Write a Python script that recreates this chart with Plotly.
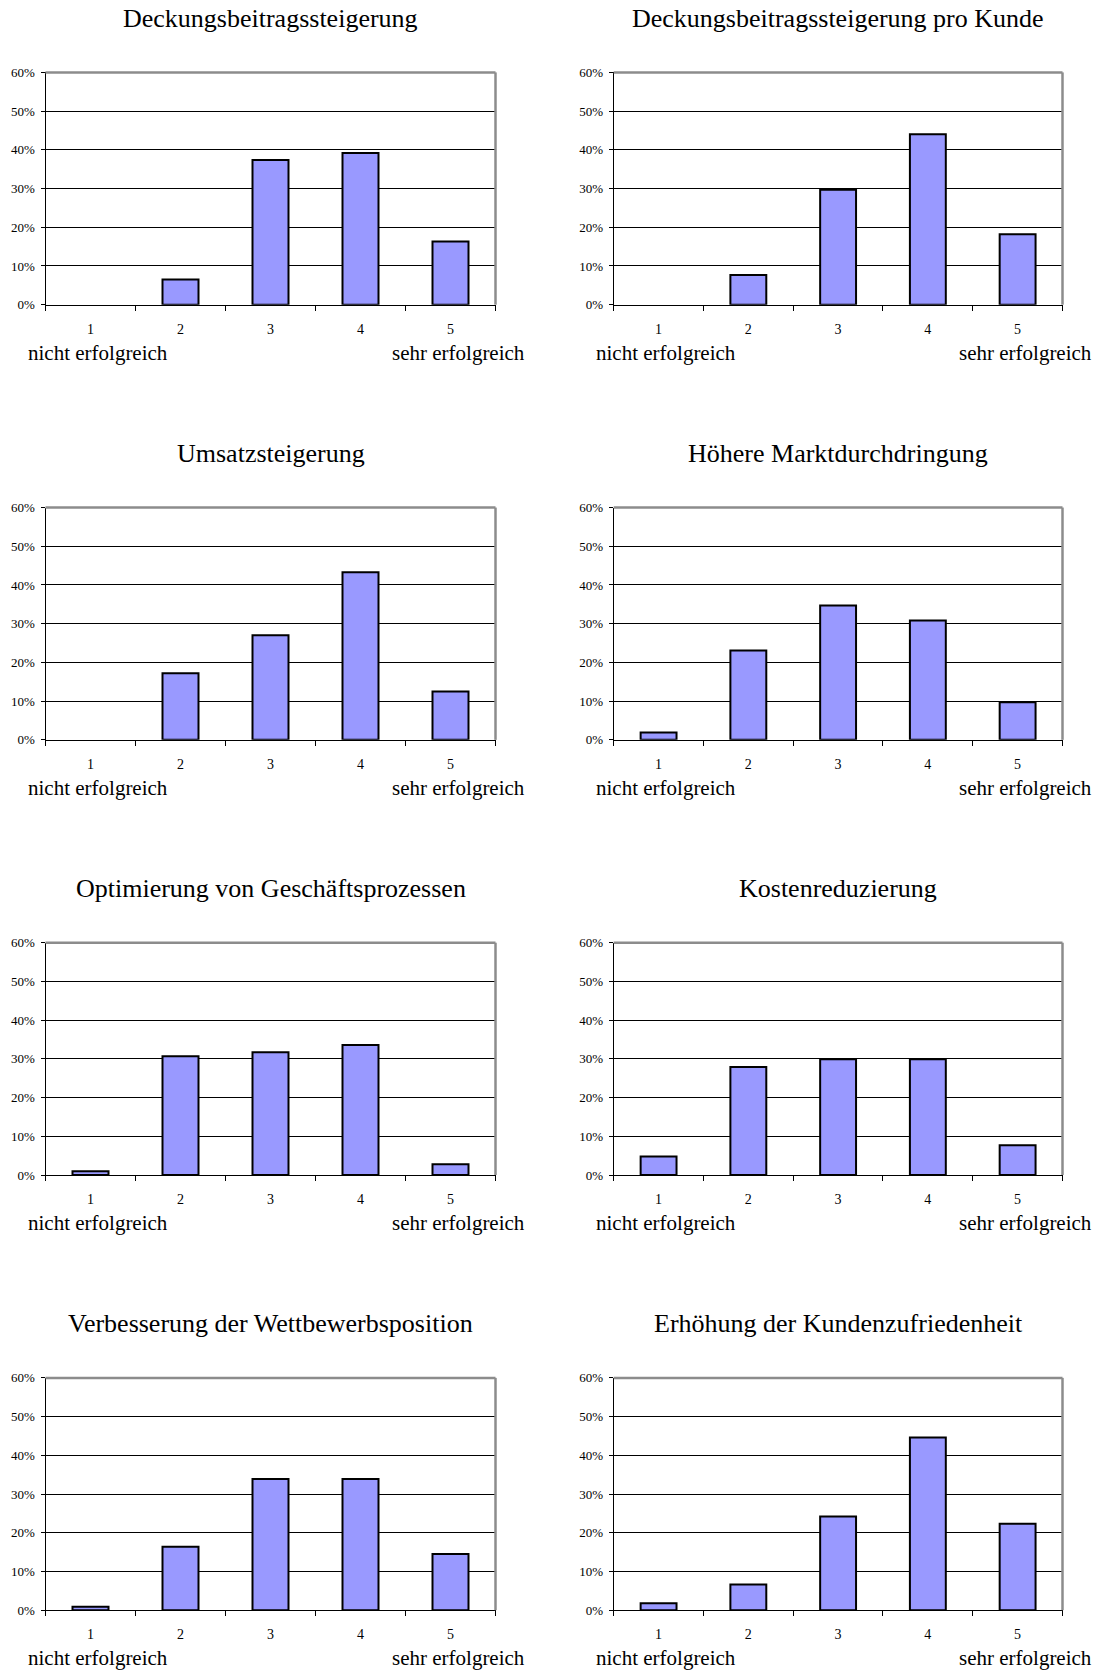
import plotly.graph_objects as go

categories = ["1", "2", "3", "4", "5"]
titles = [
    "Deckungsbeitragssteigerung",
    "Deckungsbeitragssteigerung pro Kunde",
    "Umsatzsteigerung",
    "Höhere Marktdurchdringung",
    "Optimierung von Geschäftsprozessen",
    "Kostenreduzierung",
    "Verbesserung der Wettbewerbsposition",
    "Erhöhung der Kundenzufriedenheit",
]
v_deckung = [0.0, 6.5, 37.4, 39.2, 16.3]
v_deckung_kunde = [0.0, 7.7, 29.7, 44.0, 18.2]
v_umsatz = [0.0, 17.2, 27.0, 43.3, 12.5]
v_markt = [1.9, 23.1, 34.7, 30.8, 9.7]
v_prozesse = [1.0, 30.7, 31.7, 33.6, 2.8]
v_kosten = [4.8, 27.9, 29.9, 29.9, 7.7]
v_wettbewerb = [0.9, 16.4, 33.9, 33.9, 14.5]
v_zufriedenheit = [1.8, 6.6, 24.2, 44.6, 22.3]
series = [v_deckung, v_deckung_kunde, v_umsatz, v_markt,
          v_prozesse, v_kosten, v_wettbewerb, v_zufriedenheit]
y_ticks = [0, 0.1, 0.2, 0.3, 0.4, 0.5, 0.6]
label_left = "nicht erfolgreich"
label_right = "sehr erfolgreich"

W, H = 1099, 1670
FONT = "Liberation Serif, Times New Roman, serif"
col_x = [(45.5, 495.5), (613.7, 1062.5)]
row_top = [66.0, 505.1, 944.2, 1383.3]
plot_h = 234.4

fig = go.Figure()
annotations = []
shapes = []

for i, (title, vals) in enumerate(zip(titles, series)):
    r, c = divmod(i, 2)
    x0, x1 = col_x[c]
    top = row_top[r]
    bot = top + plot_h
    xa = "xaxis" if i == 0 else f"xaxis{i+1}"
    ya = "yaxis" if i == 0 else f"yaxis{i+1}"
    xr = "x" if i == 0 else f"x{i+1}"
    yr = "y" if i == 0 else f"y{i+1}"

    fig.add_trace(go.Bar(
        x=categories, y=[v / 100 for v in vals],
        xaxis=xr, yaxis=yr,
        marker=dict(color="#9999FF",
                    line=dict(color="black",
                              width=[2 if v > 0 else 0 for v in vals])),
        showlegend=False, hoverinfo="skip",
    ))

    fig.layout[xa] = dict(
        domain=[x0 / W, x1 / W], anchor=yr, type="category",
        tickson="boundaries", ticks="outside", ticklen=5, tickwidth=1,
        tickcolor="black", showline=True, linecolor="black", linewidth=1,
        showgrid=False, zeroline=False, fixedrange=True,
        tickfont=dict(family=FONT, size=14, color="black"),
        ticklabelstandoff=11,
    )
    fig.layout[ya] = dict(
        domain=[1 - bot / H, 1 - top / H], anchor=xr,
        range=[0, 0.6], tickvals=y_ticks, tickformat=".0%",
        ticks="outside", ticklen=4, tickwidth=1, tickcolor="black",
        showline=True, linecolor="black", linewidth=1,
        showgrid=True, gridcolor="black", gridwidth=1, zeroline=False,
        fixedrange=True,
        tickfont=dict(family=FONT, size=13, color="black"),
        ticklabelstandoff=3,
    )

    # gray top and right frame
    xd = f"{xr} domain"
    yd = f"{yr} domain"
    shapes.append(dict(type="line", xref=xd, yref=yd, x0=0, x1=1, y0=1, y1=1,
                       line=dict(color="#8c8c8c", width=2.5)))
    shapes.append(dict(type="line", xref=xd, yref=yd, x0=1, x1=1, y0=0, y1=1,
                       line=dict(color="#8c8c8c", width=2.5)))

    annotations.append(dict(
        text=title, xref="paper", yref="paper",
        x=(x0 + x1) / 2 / W, y=1 - (top - 54.5) / H,
        xanchor="center", yanchor="middle", showarrow=False,
        font=dict(family=FONT, size=26, color="black"),
    ))
    annotations.append(dict(
        text=label_left, xref="paper", yref="paper",
        x=(x0 - 19.5) / W, y=1 - (bot + 48.5) / H,
        xanchor="left", yanchor="middle", showarrow=False,
        font=dict(family=FONT, size=21, color="black"),
    ))
    annotations.append(dict(
        text=label_right, xref="paper", yref="paper",
        x=(x1 + 31.5) / W, y=1 - (bot + 48.5) / H,
        xanchor="right", yanchor="middle", showarrow=False,
        font=dict(family=FONT, size=21, color="black"),
    ))

fig.update_layout(
    width=W, height=H,
    margin=dict(l=0, r=0, t=0, b=0),
    paper_bgcolor="white", plot_bgcolor="white",
    bargap=0.6,
    annotations=annotations, shapes=shapes,
    font=dict(family=FONT, color="black"),
)

fig.write_html(
    "out.html",
    config={"displayModeBar": False},
    post_script="document.body.style.margin='0';document.body.style.overflow='hidden';",
)
